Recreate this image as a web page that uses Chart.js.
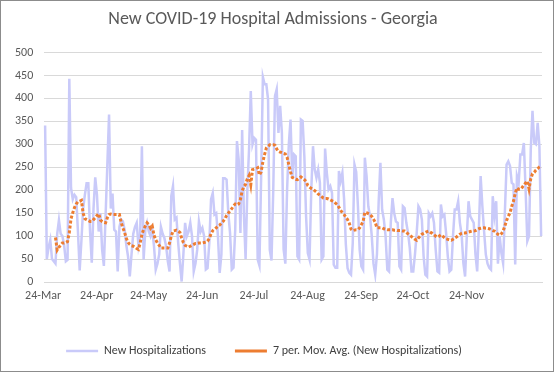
<!DOCTYPE html>
<html><head><meta charset="utf-8">
<script src="https://cdn.jsdelivr.net/npm/chart.js@4/dist/chart.umd.min.js"></script>
<style>html,body{margin:0;padding:0;background:#fff;}</style>
</head><body>
<canvas id="c" width="554" height="372"></canvas>
<script>
const chartTitle = 'New COVID-19 Hospital Admissions - Georgia';
const seriesNames = ['New Hospitalizations', '7 per. Mov. Avg. (New Hospitalizations)'];
const startDate = '2020-03-24';
const dayCount = 288;
const tickLabels = ['24-Mar','24-Apr','24-May','24-Jun','24-Jul','24-Aug','24-Sep','24-Oct','24-Nov'];

const newHosp = [
 341, 50, 75, 92, 50, 45, 40, 105, 135, 105,
 100, 80, 45, 48, 443, 205, 180, 190, 185, 110,
 25, 90, 160, 190, 215, 215, 110, 42, 160, 228,
 190, 110, 150, 70, 35, 145, 255, 365, 160, 193,
 114, 110, 23, 120, 136, 132, 114, 80, 55, 12,
 60, 105, 120, 129, 80, 103, 296, 49, 114, 129,
 110, 100, 114, 78, 27, 40, 60, 120, 105, 96,
 78, 45, 23, 187, 209, 136, 140, 85, 41, 1,
 60, 129, 100, 110, 129, 100, 23, 40, 70, 132,
 110, 118, 100, 27, 30, 85, 180, 194, 147, 150,
 100, 20, 60, 226, 226, 223, 150, 107, 27, 31,
 114, 307, 267, 107, 331, 150, 50, 200, 290, 416,
 300, 314, 310, 49, 36, 230, 447, 431, 431, 398,
 70, 47, 200, 405, 420, 325, 384, 325, 71, 40,
 200, 300, 354, 227, 278, 274, 56, 49, 354, 351,
 274, 143, 63, 49, 200, 296, 245, 227, 245, 216,
 49, 56, 291, 238, 202, 209, 194, 38, 31, 31,
 242, 220, 238, 180, 82, 30, 20, 16, 85, 256,
 240, 165, 70, 34, 27, 271, 231, 165, 143, 100,
 40, 16, 60, 175, 260, 158, 136, 100, 27, 23,
 129, 183, 150, 132, 129, 34, 27, 165, 161, 129,
 107, 74, 23, 23, 60, 107, 165, 158, 136, 56,
 16, 12, 150, 143, 150, 129, 70, 23, 20, 169,
 143, 147, 107, 56, 23, 27, 100, 158, 158, 176,
 129, 103, 41, 12, 100, 176, 143, 136, 129, 60,
 23, 120, 231, 165, 110, 60, 40, 31, 27, 187,
 145, 176, 40, 100, 63, 41, 150, 256, 263, 253,
 216, 213, 38, 231, 216, 278, 278, 303, 202, 89,
 100, 289, 373, 303, 300, 347, 296, 100
];

const movAvg7 = [
 null, null, null, null, null, null, 97, 70, 76, 80,
 85, 85, 86, 88, 108, 138, 151, 162, 170, 175,
 176, 178, 150, 138, 136, 134, 132, 132, 136, 140,
 145, 149, 135, 132, 130, 129, 140, 147, 148, 147,
 147, 147, 147, 147, 130, 118, 108, 95, 86, 82,
 79, 78, 76, 73, 71, 85, 103, 115, 122, 129,
 125, 117, 122, 102, 92, 85, 80, 74, 74, 74,
 74, 74, 85, 100, 111, 112, 113, 111, 108, 96,
 86, 80, 78, 76, 78, 80, 82, 84, 84, 85,
 85, 85, 86, 87, 89, 95, 105, 112, 115, 118,
 122, 124, 128, 132, 138, 145, 150, 155, 160, 166,
 170, 168, 170, 180, 198, 208, 213, 225, 232, 212,
 245, 246, 247, 249, 233, 240, 262, 278, 292, 296,
 299, 299, 299, 298, 290, 285, 283, 282, 280, 279,
 272, 256, 240, 228, 226, 224, 223, 226, 229, 226,
 223, 219, 210, 207, 204, 202, 199, 196, 192, 189,
 186, 183, 182, 182, 181, 179, 177, 175, 172, 169,
 163, 156, 151, 147, 141, 136, 128, 115, 112, 113,
 114, 114, 118, 125, 132, 152, 151, 149, 147, 143,
 137, 130, 118, 118, 118, 118, 116, 115, 114, 114,
 114, 114, 113, 113, 112, 112, 112, 111, 111, 108,
 105, 102, 99, 96, 93, 91, 96, 100, 104, 106,
 108, 110, 111, 108, 106, 103, 100, 98, 100, 103,
 100, 97, 94, 93, 92, 91, 93, 96, 98, 101,
 104, 106, 107, 107, 108, 109, 110, 111, 111, 112,
 114, 116, 117, 118, 118, 117, 117, 116, 114, 112,
 111, 108, 104, 102, 105, 111, 122, 134, 143, 151,
 165, 176, 193, 205, 202, 202, 206, 211, 216, 220,
 203, 225, 236, 239, 244, 247, 251, 253
];

const monthNames = ['Jan','Feb','Mar','Apr','May','Jun','Jul','Aug','Sep','Oct','Nov','Dec'];
const categories = [];
{
  const d0 = new Date(startDate + 'T00:00:00Z');
  for (let i = 0; i < dayCount; i++) {
    const d = new Date(d0.getTime() + i * 86400000);
    categories.push(d.getUTCDate() + '-' + monthNames[d.getUTCMonth()]);
  }
}

const FONT = 'Carlito, Calibri, Lato, "Open Sans", sans-serif';
const TXT = '#595959';

const frame = {
  id: 'frame',
  afterLayout(chart) {
    if (chart.legend) { chart.legend.left -= 9; chart.legend.right -= 9; }
  },
  beforeDraw(chart) {
    const ctx = chart.ctx;
    ctx.save();
    ctx.fillStyle = '#fff';
    ctx.fillRect(0, 0, chart.width, chart.height);
    ctx.restore();
  },
  afterDraw(chart) {
    const ctx = chart.ctx;
    ctx.save();
    ctx.strokeStyle = '#8c8c8c';
    ctx.lineWidth = 1;
    ctx.strokeRect(0.5, 0.5, chart.width - 1, chart.height - 1);
    ctx.restore();
  }
};

new Chart(document.getElementById('c'), {
  type: 'line',
  data: {
    labels: categories,
    datasets: [
      { label: seriesNames[0], data: newHosp, borderColor: '#C9CAF9', backgroundColor: '#C9CAF9',
        borderWidth: 2.5, pointRadius: 0, tension: 0, order: 2 },
      { label: seriesNames[1], data: movAvg7, borderColor: '#ED7D31', backgroundColor: '#ED7D31',
        borderWidth: 3, borderDash: [3, 2], pointRadius: 0, tension: 0, order: 1 }
    ]
  },
  options: {
    responsive: false,
    animation: false,
    devicePixelRatio: 1,
    layout: { padding: { left: 4, right: 12, top: 0, bottom: 5 } },
    plugins: {
      title: { display: true, text: chartTitle, color: TXT,
        font: { family: FONT, size: 18, weight: 'normal' }, padding: { top: 9, bottom: 22 } },
      legend: { position: 'bottom',
        labels: { usePointStyle: true, pointStyle: 'line', pointStyleWidth: 32, color: '#404040',
          font: { family: FONT, size: 12 }, padding: 29,
          sort: (a, b) => a.datasetIndex - b.datasetIndex } },
      tooltip: { enabled: false }
    },
    scales: {
      x: {
        type: 'category', offset: true,
        grid: { display: false, drawTicks: false },
        border: { display: true, color: '#D9D9D9' },
        ticks: { autoSkip: false, maxRotation: 0, minRotation: 0, padding: 7, color: TXT,
          labelOffset: -2, font: { family: FONT, size: 12 },
          callback(v) { const l = this.getLabelForValue(v); return tickLabels.includes(l) ? l : ''; } },
        afterFit(s) { s.height = 34; }
      },
      y: {
        min: 0, max: 500,
        ticks: { stepSize: 50, padding: 11, color: TXT, font: { family: FONT, size: 12 } },
        grid: { color: '#D9D9D9', drawTicks: false },
        border: { display: false }
      }
    }
  },
  plugins: [frame]
});
</script>
</body></html>
